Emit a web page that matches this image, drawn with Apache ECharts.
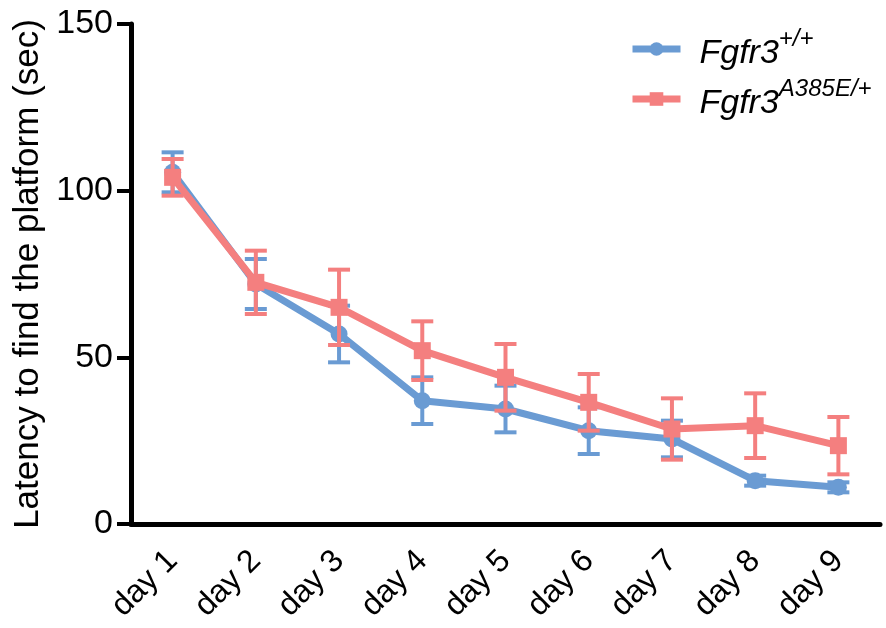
<!DOCTYPE html>
<html>
<head>
<meta charset="utf-8">
<script src="https://cdn.jsdelivr.net/npm/echarts@6/dist/echarts.min.js"></script>
<style>
  html, body { margin: 0; padding: 0; background: #fff; }
  #chart { width: 886px; height: 628px; }
</style>
</head>
<body>
<div id="chart"></div>
<script>
// days of training
const days = ['day 1', 'day 2', 'day 3', 'day 4', 'day 5', 'day 6', 'day 7', 'day 8', 'day 9'];
// Fgfr3 +/+ mean latency and error
const wtMean = [105.5, 72, 57, 37, 34.5, 28, 25.5, 13, 11];
const wtErr = [6, 7.5, 8.5, 7, 7, 7, 5.5, 1.5, 1.5];
// Fgfr3 A385E/+ mean latency and error
const mutMean = [104, 72.5, 65, 52, 44, 36.5, 28.5, 29.5, 23.5];
const mutErr = [5.5, 9.5, 11.3, 8.8, 10, 8.5, 9.2, 9.7, 8.6];
const yTicks = [0, 50, 100, 150];

const BLUE = '#6a9bd3';
const RED = '#f47f7f';
const FONT = '"Liberation Sans", Arial, sans-serif';

// error bars with caps, drawn through the axis scales
function errorBars(name, color, mean, err, z) {
  return {
    type: 'custom',
    name: name,
    z: z,
    silent: true,
    data: mean.map((m, i) => [i, m - err[i], m + err[i]]),
    renderItem: function (params, api) {
      const lo = api.coord([api.value(0), api.value(1)]);
      const hi = api.coord([api.value(0), api.value(2)]);
      const half = 11;
      const style = { stroke: color, lineWidth: 4 };
      return {
        type: 'group',
        children: [
          { type: 'line', shape: { x1: lo[0], y1: hi[1], x2: lo[0], y2: lo[1] }, style: style },
          { type: 'line', shape: { x1: lo[0] - half, y1: hi[1], x2: lo[0] + half, y2: hi[1] }, style: style },
          { type: 'line', shape: { x1: lo[0] - half, y1: lo[1], x2: lo[0] + half, y2: lo[1] }, style: style }
        ]
      };
    }
  };
}

const chart = echarts.init(document.getElementById('chart'));
chart.setOption({
  animation: false,
  backgroundColor: '#fff',
  textStyle: { fontFamily: FONT },
  grid: { left: 131, right: 6, top: 24, bottom: 104 },
  legend: {
    data: ['Fgfr3+/+', 'Fgfr3A385E/+'],
    orient: 'vertical',
    left: 624,
    top: 22,
    itemWidth: 48,
    itemHeight: 17,
    itemGap: 6,
    lineStyle: { width: 7 },
    formatter: function (name) {
      return name === 'Fgfr3+/+' ? '{a|Fgfr3}{b|+/+}' : '{a|Fgfr3}{b|A385E/+}';
    },
    textStyle: {
      rich: {
        a: { fontSize: 34, fontStyle: 'italic', color: '#000', fontFamily: FONT, lineHeight: 44, verticalAlign: 'bottom', padding: [0, 0, 0, 14] },
        b: { fontSize: 24, fontStyle: 'italic', color: '#000', fontFamily: FONT, lineHeight: 28, verticalAlign: 'top' }
      }
    }
  },
  xAxis: {
    type: 'category',
    data: days,
    axisLine: { lineStyle: { color: '#000', width: 5 } },
    axisTick: { alignWithLabel: true, length: 15, lineStyle: { color: '#000', width: 4 } },
    axisLabel: { rotate: 45, fontSize: 32, color: '#000', margin: 32, fontFamily: FONT },
    splitLine: { show: false }
  },
  yAxis: {
    type: 'value',
    min: yTicks[0],
    max: yTicks[yTicks.length - 1],
    interval: 50,
    name: 'Latency to find the platform (sec)',
    nameLocation: 'middle',
    nameGap: 84,
    nameTextStyle: { fontSize: 35, color: '#000', fontFamily: FONT },
    axisLine: { show: true, lineStyle: { color: '#000', width: 5 } },
    axisTick: { show: true, length: 14, lineStyle: { color: '#000', width: 4 } },
    axisLabel: { fontSize: 34, color: '#000', margin: 18, fontFamily: FONT },
    splitLine: { show: false }
  },
  series: [
    errorBars('wtErr', BLUE, wtMean, wtErr, 2),
    {
      type: 'line',
      name: 'Fgfr3+/+',
      data: wtMean,
      z: 3,
      symbol: 'circle',
      symbolSize: 17,
      lineStyle: { color: BLUE, width: 7 },
      itemStyle: { color: BLUE }
    },
    errorBars('mutErr', RED, mutMean, mutErr, 4),
    {
      type: 'line',
      name: 'Fgfr3A385E/+',
      data: mutMean,
      z: 5,
      symbol: 'rect',
      symbolSize: 17,
      lineStyle: { color: RED, width: 7 },
      itemStyle: { color: RED }
    }
  ]
});
</script>
</body>
</html>
